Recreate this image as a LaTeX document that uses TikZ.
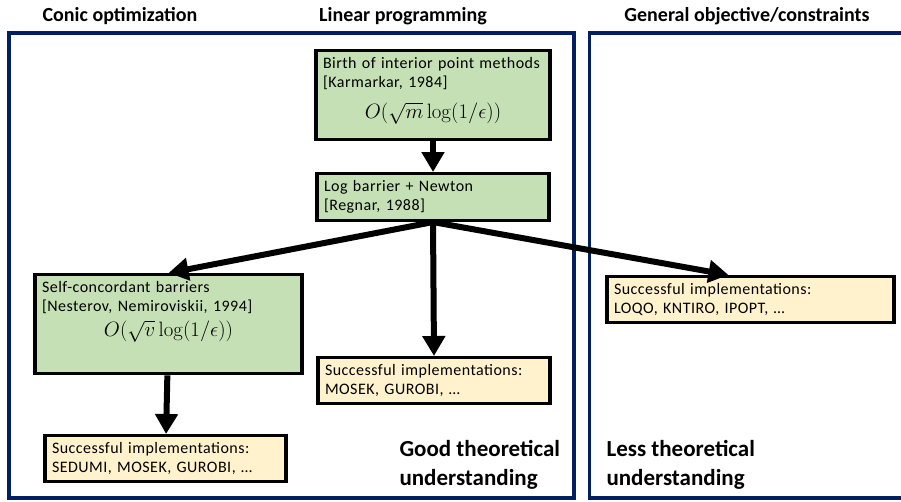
\documentclass[tikz,border=0pt]{standalone}
\usepackage[no-math]{fontspec}
\setmainfont{Carlito}
\newfontfamily\boxfont{Carlito}[LetterSpace=3]
\usetikzlibrary{arrows.meta}
\definecolor{frameBlue}{RGB}{0, 32, 96}
\definecolor{boxGreen}{RGB}{197, 224, 180}
\definecolor{boxYellow}{RGB}{255, 242, 204}
\hyphenpenalty=10000
% centred complexity line, #1 = extra depth below it
\newcommand{\rate}[2]{\makebox[\linewidth]{\fontsize{21}{24}\selectfont$#2$\rule[-#1]{0pt}{0pt}}}

\begin{document}
\begin{tikzpicture}
    [
		x=1pt, y=-1pt,
		box/.style={
			draw, line width=3.2pt, align=left, anchor=north,
			inner xsep=7pt, inner ysep=7pt,
			font=\boxfont\fontsize{16}{19}\selectfont
		},
		greenbox/.style={box, fill=boxGreen},
		yellowbox/.style={box, fill=boxYellow},
		frame/.style={draw=frameBlue, line width=3.5pt},
		heading/.style={font=\bfseries\fontsize{20}{24}\selectfont},
		note/.style={font=\bfseries\fontsize{23}{29}\selectfont, align=left, anchor=north west},
		flow/.style={-{Triangle[width=22pt, length=20pt]}, line width=6pt}
	]

\useasboundingbox (0,0) rectangle (901,501);

% Frames
\draw [frame] (9,33) rectangle (574,498);
\draw [frame] (901,33) -- (589.5,33) -- (589.5,498) -- (901,498);

% Headings
\node (conic) [heading] at (120,16) {Conic optimization};
\node (linear) [heading] at (403,16) {Linear programming};
\node (general) [heading] at (747,16) {General objective/constraints};

% Nodes
\node (birth) [greenbox, text width=220pt] at (433,49)
	{Birth of interior point methods\\{[Karmarkar, 1984]}\\[12pt]\rate{14pt}{O(\sqrt{m}\log(1/\epsilon))}};
\node (newton) [greenbox, text width=218pt] at (433,172)
	{Log barrier + Newton\\{[Regnar, 1988]}};
\node (selfconc) [greenbox, text width=253pt] at (168.5,273)
	{Self-concordant barriers\\{[Nesterov, Nemiroviskii, 1994]}\\[6pt]\rate{30pt}{O(\sqrt{v}\log(1/\epsilon))}};
\node (implConic) [yellowbox, text width=227pt] at (165.5,434)
	{Successful implementations:\\SEDUMI, MOSEK, GUROBI, \dots};
\node (implLinear) [yellowbox, text width=218pt] at (434,356)
	{Successful implementations:\\MOSEK, GUROBI, \dots};
\node (implGeneral) [yellowbox, text width=273pt] at (750.5,275)
	{Successful implementations:\\LOQO, KNTIRO, IPOPT, \dots};

% Remarks
\node (good) [note] at (396,437) {Good theoretical\\understanding};
\node (less) [note] at (603,437) {Less theoretical\\understanding};

% Transitions
\draw [flow] (birth) -- (newton);
\draw [flow] (newton.south) -- (selfconc.north);
\draw [flow] (newton.south) -- (implLinear.north);
\draw [flow] (newton.south) -- ([xshift=-22pt]implGeneral.north);
\draw [flow] (selfconc) -- (implConic);

\end{tikzpicture}
\end{document}
